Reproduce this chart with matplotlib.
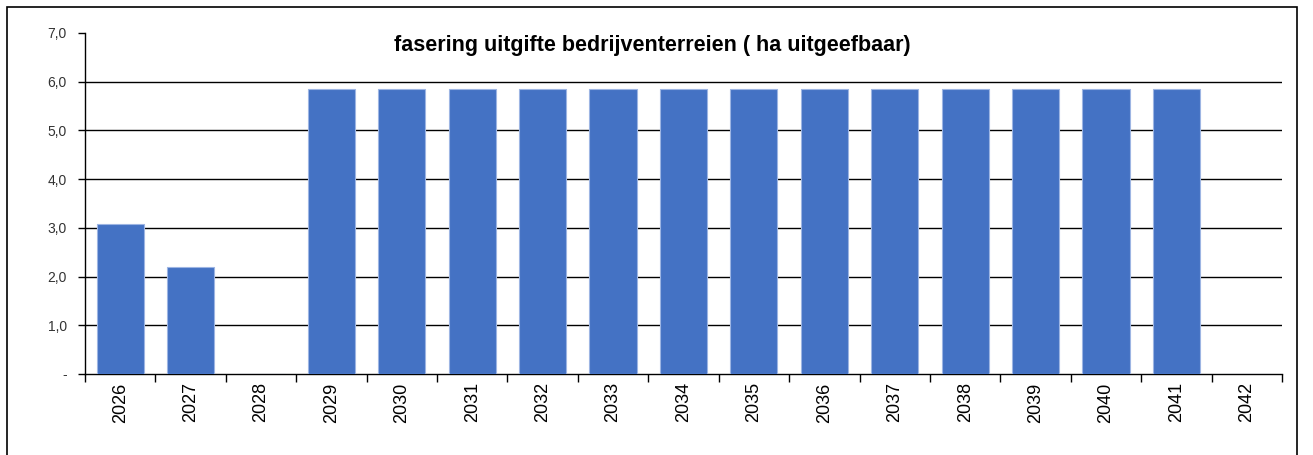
import matplotlib
matplotlib.use("Agg")
import matplotlib.pyplot as plt
import numpy as np
from matplotlib.patches import Rectangle
from matplotlib.ticker import FuncFormatter

plt.rcParams["font.family"] = ["Liberation Sans", "DejaVu Sans"]

# data
jaren = ["2026", "2027", "2028", "2029", "2030", "2031", "2032", "2033", "2034",
         "2035", "2036", "2037", "2038", "2039", "2040", "2041", "2042"]
ha_uitgeefbaar = [3.08, 2.2, 0.0, 5.85, 5.85, 5.85, 5.85, 5.85, 5.85,
                  5.85, 5.85, 5.85, 5.85, 5.85, 5.85, 5.85, 0.0]
titel = "fasering uitgifte bedrijventerreien ( ha uitgeefbaar)"

fig = plt.figure(figsize=(13.13, 4.55), dpi=100)
ax = fig.add_axes([0.0647, 0.178, 0.9117, 0.7495])

x = np.arange(len(jaren))
ax.bar(x, ha_uitgeefbaar, width=0.67, color="#4472C4", edgecolor="#9DB5E3",
       linewidth=0.8, zorder=3)

ax.set_xlim(-0.5, len(jaren) - 0.5)
ax.set_ylim(0, 7)
ax.set_yticks(np.arange(0, 8, 1))
ax.yaxis.set_major_formatter(FuncFormatter(
    lambda v, p: "-" if v == 0 else ("%.1f" % v).replace(".", ",")))
ax.tick_params(axis="y", labelsize=10, labelcolor="#333333", length=5,
               width=1, direction="out", pad=8)

ax.set_xticks(x)
ax.set_xticklabels(jaren, rotation=90, fontsize=13)
ax.set_xticks(np.arange(-0.5, len(jaren)), minor=True)
ax.tick_params(axis="x", which="major", length=0, pad=6)
ax.tick_params(axis="x", which="minor", length=6, width=1, direction="out")

for yv in range(1, 7):
    ax.axhline(yv, color="black", linewidth=1, zorder=1)

for s in ["top", "right"]:
    ax.spines[s].set_visible(False)
ax.spines["left"].set_linewidth(1)
ax.spines["bottom"].set_linewidth(1)

fig.text(0.4965, 0.901, titel, ha="center", va="center", fontsize=15.5,
         fontweight="bold")

# rand om de grafiek
fig.patches.append(Rectangle((7 / 1313, -0.1), 1290 / 1313, 1.1 - 7 / 455,
                             transform=fig.transFigure, fill=False,
                             edgecolor="black", linewidth=1.2))

fig.savefig("out.png", dpi=100)
